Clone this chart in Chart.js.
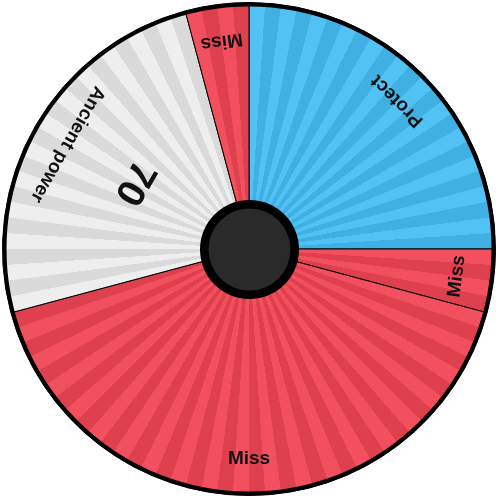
<!DOCTYPE html>
<html>
<head>
<meta charset="utf-8">
<script src="https://cdn.jsdelivr.net/npm/chart.js@4"></script>
<style>
  html, body { margin: 0; padding: 0; background: #ffffff; }
  #wrap { width: 500px; height: 500px; }
</style>
</head>
<body>
<div id="wrap"><canvas id="c" width="500" height="500"></canvas></div>
<script>
const moveNames = ["Protect", "Miss", "Miss", "Ancient power", "Miss"];
const moveWeights = [24, 4, 40, 24, 4];          // out of 96
const moveDamage = [null, null, null, 70, null];

// ---- styling ----
const palette = {
  "Protect":       ["#52c2f5", "#40b0e2"],
  "Miss":          ["#f2505e", "#df404e"],
  "Ancient power": ["#eeeeee", "#dadada"]
};
const STRIPES = 96;
const gradCache = {};

function stripeGradient(chart, name) {
  const area = chart.chartArea;
  if (!area) return palette[name][0];
  const cx = (area.left + area.right) / 2;
  const cy = (area.top + area.bottom) / 2;
  const key = name + "@" + cx + "," + cy;
  if (gradCache[key]) return gradCache[key];
  const g = chart.ctx.createConicGradient(-Math.PI / 2, cx, cy);
  const [light, dark] = palette[name];
  for (let i = 0; i < STRIPES; i++) {
    const col = i % 2 === 0 ? light : dark;
    g.addColorStop(i / STRIPES, col);
    g.addColorStop((i + 1) / STRIPES - 1e-6, col);
  }
  gradCache[key] = g;
  return g;
}

const wheelDecor = {
  id: "wheelDecor",
  afterDatasetsDraw(chart) {
    const ctx = chart.ctx;
    const meta = chart.getDatasetMeta(0);
    ctx.save();
    meta.data.forEach((arc, i) => {
      const p = arc.getProps(["x", "y", "startAngle", "endAngle", "outerRadius"], true);
      const mid = (p.startAngle + p.endAngle) / 2;
      // name label
      ctx.save();
      ctx.translate(p.x + Math.cos(mid) * (p.outerRadius - 37), p.y + Math.sin(mid) * (p.outerRadius - 37));
      ctx.rotate(mid - Math.PI / 2);
      ctx.fillStyle = "#111111";
      ctx.font = "bold 19px 'Liberation Sans', Arial, sans-serif";
      ctx.textAlign = "center";
      ctx.textBaseline = "middle";
      ctx.fillText(moveNames[i], 0, 0);
      ctx.restore();
      // damage label
      if (moveDamage[i] !== null) {
        ctx.save();
        ctx.translate(p.x + Math.cos(mid) * (p.outerRadius - 114), p.y + Math.sin(mid) * (p.outerRadius - 114));
        ctx.rotate(mid - Math.PI / 2);
        ctx.fillStyle = "#111111";
        ctx.font = "bold 39px 'Liberation Sans', Arial, sans-serif";
        ctx.textAlign = "center";
        ctx.textBaseline = "middle";
        ctx.fillText(String(moveDamage[i]), 0, 0);
        ctx.restore();
      }
    });
    const a0 = meta.data[0].getProps(["x", "y", "outerRadius"], true);
    // outer rim
    ctx.beginPath();
    ctx.arc(a0.x, a0.y, a0.outerRadius - 2, 0, Math.PI * 2);
    ctx.lineWidth = 4;
    ctx.strokeStyle = "#000000";
    ctx.stroke();
    // hub
    ctx.beginPath();
    ctx.arc(a0.x + 0.5, a0.y + 0.5, 49.5, 0, Math.PI * 2);
    ctx.fillStyle = "#000000";
    ctx.fill();
    ctx.beginPath();
    ctx.arc(a0.x + 0.5, a0.y + 0.5, 41, 0, Math.PI * 2);
    ctx.fillStyle = "#2a2a2a";
    ctx.fill();
    ctx.restore();
  }
};

new Chart(document.getElementById("c"), {
  type: "doughnut",
  data: {
    labels: moveNames,
    datasets: [{
      data: moveWeights,
      backgroundColor: (c) => stripeGradient(c.chart, moveNames[c.dataIndex]),
      borderColor: "#000000",
      borderWidth: 1,
      hoverOffset: 0
    }]
  },
  options: {
    responsive: false,
    animation: false,
    cutout: 0,
    rotation: 0,
    layout: { padding: { left: 2, right: 4, top: 2, bottom: 4 } },
    plugins: {
      legend: { display: false },
      tooltip: { enabled: false }
    },
    events: []
  },
  plugins: [wheelDecor]
});
</script>
</body>
</html>
